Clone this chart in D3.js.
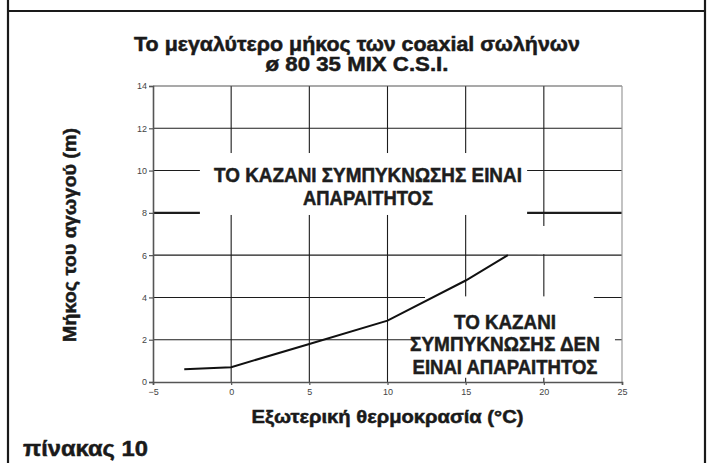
<!DOCTYPE html>
<html>
<head>
<meta charset="utf-8">
<script src="https://cdn.jsdelivr.net/npm/d3@7"></script>
<style>
  html, body { margin: 0; padding: 0; background: #fff; }
  svg { display: block; }
  svg text { font-family: "Liberation Sans", Arial, Helvetica, sans-serif; }
  .heavy { font-weight: 700; stroke: #1a1a1a; stroke-width: 0.5px; }
</style>
</head>
<body>
<svg id="chart" width="712" height="463"></svg>
<script>
// Maximum coaxial flue length vs outdoor temperature
const temperatures = [-3, 0, 5, 10, 15, 17.7];
const maxLengths   = [0.6, 0.7, 1.8, 2.9, 4.8, 6.0];

const xTicks = [-5, 0, 5, 10, 15, 20, 25];
const yTicks = [0, 2, 4, 6, 8, 10, 12, 14];

const titleLines = ["Το μεγαλύτερο μήκος των coaxial σωλήνων", "ø 80 35 MIX C.S.I."];
const xLabel = "Εξωτερική θερμοκρασία (°C)";
const yLabel = "Μήκος του αγωγού (m)";
const tableLabel = "πίνακας 10";
const upperNote = ["ΤΟ ΚΑΖΑΝΙ ΣΥΜΠΥΚΝΩΣΗΣ ΕΙΝΑΙ", "ΑΠΑΡΑΙΤΗΤΟΣ"];
const lowerNote = ["ΤΟ ΚΑΖΑΝΙ", "ΣΥΜΠΥΚΝΩΣΗΣ ΔΕΝ", "ΕΙΝΑΙ ΑΠΑΡΑΙΤΗΤΟΣ"];

const svg = d3.select("#chart");
const W = 712, H = 463;

// table frame
svg.append("line").attr("x1", 8).attr("x2", 8).attr("y1", 0).attr("y2", H)
  .attr("stroke", "#1a1a1a").attr("stroke-width", 2.2);
svg.append("line").attr("x1", 705).attr("x2", 705).attr("y1", 0).attr("y2", H)
  .attr("stroke", "#1a1a1a").attr("stroke-width", 2.2);
svg.append("line").attr("x1", 8).attr("x2", 705).attr("y1", 11).attr("y2", 11)
  .attr("stroke", "#1a1a1a").attr("stroke-width", 2.2);

const x = d3.scaleLinear().domain([-5, 25]).range([153, 622]);
const y = d3.scaleLinear().domain([0, 14]).range([382, 86]);

const plot = svg.append("g");

// vertical grid
plot.selectAll("line.vg").data(xTicks.filter(t => t > -5 && t < 25)).join("line")
  .attr("class", "vg")
  .attr("x1", d => x(d)).attr("x2", d => x(d))
  .attr("y1", y(0)).attr("y2", y(14))
  .attr("stroke", "#1c1c1c").attr("stroke-width", 1.1);

// horizontal grid
plot.selectAll("line.hg").data(yTicks.filter(t => t > 0)).join("line")
  .attr("class", "hg")
  .attr("x1", x(-5)).attr("x2", x(25))
  .attr("y1", d => y(d)).attr("y2", d => y(d))
  .attr("stroke", d => d === 14 ? "#555" : "#1c1c1c")
  .attr("stroke-width", d => d === 8 ? 2.4 : 1.1);

// right frame of the plot area
plot.append("line")
  .attr("x1", x(25)).attr("x2", x(25)).attr("y1", y(0)).attr("y2", y(14))
  .attr("stroke", "#9a9a9a").attr("stroke-width", 1.2);

// axes
const yAxis = d3.axisLeft(y).tickValues(yTicks).tickSize(4).tickPadding(2);
const xAxis = d3.axisBottom(x).tickValues(xTicks).tickSize(3).tickPadding(4);

const gy = svg.append("g").attr("transform", `translate(${x(-5)},0)`).call(yAxis);
const gx = svg.append("g").attr("transform", `translate(0,${y(0)})`).call(xAxis);
[gx, gy].forEach(g => {
  g.attr("font-family", null).attr("font-size", null);
  g.select(".domain").attr("stroke", "#555").attr("stroke-width", 1.6);
  g.selectAll(".tick line").attr("stroke", "#555").attr("stroke-width", 1.2);
  g.selectAll(".tick text").attr("fill", "#444").style("font-size", "9px");
});

// white areas behind the two notes
const masks = [
  { x0: -2.0, x1: 18.93, y0: 7.9, y1: 10.83 },
  { x0: 12.4, x1: 23.2, y0: 0.2, y1: 4.05 },
  { x0: 11.76, x1: 24.55, y0: 1.5, y1: 2.5 },
  { x0: 19.6, x1: 20.4, y0: 6.05, y1: 7.38 }
];
plot.selectAll("rect.mask").data(masks).join("rect")
  .attr("class", "mask")
  .attr("x", d => x(d.x0)).attr("width", d => x(d.x1) - x(d.x0))
  .attr("y", d => y(d.y1)).attr("height", d => y(d.y0) - y(d.y1))
  .attr("fill", "#fff");

// the limit curve
const pts = temperatures.map((t, i) => [t, maxLengths[i]]);
plot.append("path")
  .datum(pts)
  .attr("d", d3.line().x(d => x(d[0])).y(d => y(d[1])))
  .attr("fill", "none").attr("stroke", "#111").attr("stroke-width", 2);

// bold text squeezed horizontally to a target width
function fitText(sel, size, width) {
  sel.attr("class", "heavy").style("font-size", size + "px");
  sel.each(function(d, i) {
    const w = typeof width === "function" ? width(d, i) : width;
    const natural = this.getComputedTextLength();
    const cx = +this.getAttribute("x"), cy = +this.getAttribute("y");
    const k = w / natural;
    d3.select(this).attr("transform",
      `translate(${cx},${cy}) scale(${k},1) translate(${-cx},${-cy})`);
  });
}

svg.append("g").selectAll("text").data(upperNote).join("text")
  .attr("text-anchor", "middle").attr("fill", "#1e1e1e")
  .attr("x", 368).attr("y", (d, i) => 182 + i * 23)
  .text(d => d)
  .call(fitText, 20, (d, i) => i === 0 ? 308 : 130);
svg.append("g").selectAll("text").data(lowerNote).join("text")
  .attr("text-anchor", "middle").attr("fill", "#1e1e1e")
  .attr("x", 505).attr("y", (d, i) => 329 + i * 22.5)
  .text(d => d)
  .call(fitText, 20, (d, i) => [102, 190, 185][i]);

// titles and axis labels
svg.append("g").selectAll("text").data(titleLines).join("text")
  .attr("text-anchor", "middle").attr("fill", "#1a1a1a")
  .attr("x", 357).attr("y", (d, i) => 51 + i * 20)
  .text(d => d)
  .call(fitText, 20, (d, i) => i === 0 ? 446 : 183);

svg.append("text")
  .attr("text-anchor", "middle").attr("fill", "#1a1a1a")
  .attr("x", x(10)).attr("y", 423)
  .text(xLabel)
  .call(fitText, 18, 272);

svg.append("g").attr("transform", "translate(76,235) rotate(-90)")
  .append("text")
  .attr("text-anchor", "middle").attr("fill", "#1a1a1a")
  .attr("x", 0).attr("y", 0)
  .text(yLabel)
  .call(fitText, 18, 214);

svg.append("text")
  .attr("fill", "#1a1a1a")
  .attr("x", 23).attr("y", 456)
  .text(tableLabel)
  .call(fitText, 22, 125);
</script>
</body>
</html>
